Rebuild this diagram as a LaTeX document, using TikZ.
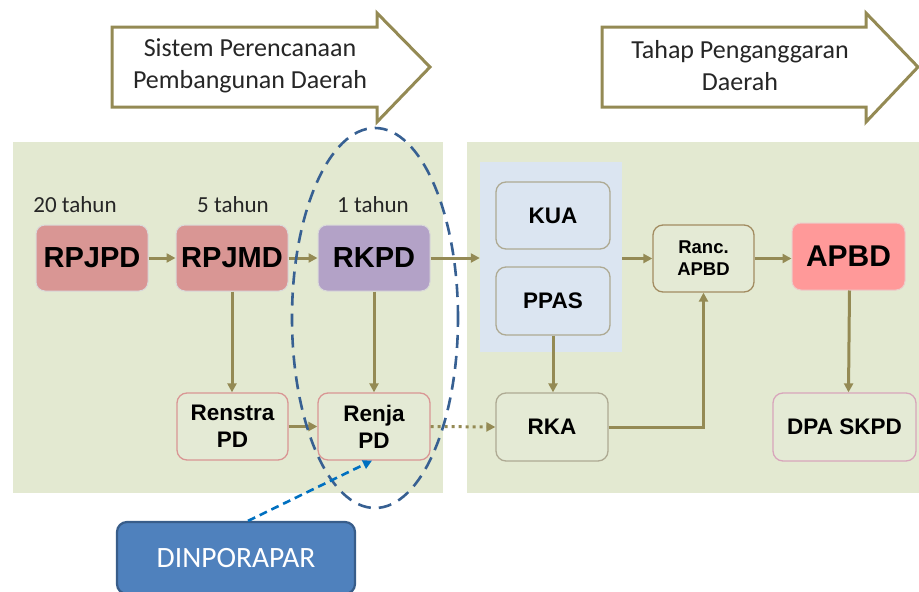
\documentclass[tikz,border=0pt]{standalone}
\usepackage{fontspec}
\setmainfont{Liberation Sans}
\newfontfamily\calfont{Carlito}
\usetikzlibrary{arrows.meta,calc}
\definecolor{olivec}{HTML}{948A54}
\definecolor{panelg}{HTML}{E3E9D1}
\definecolor{panelb}{HTML}{DBE5F1}
\definecolor{rosec}{HTML}{D99694}
\definecolor{lavc}{HTML}{B3A2C7}
\definecolor{apbdc}{HTML}{FF9999}
\definecolor{boxg}{HTML}{E4EAD5}
\definecolor{ellc}{HTML}{376092}
\definecolor{dinpc}{HTML}{4F81BD}
\definecolor{dinpb}{HTML}{385D8A}
\definecolor{linkb}{HTML}{0070C0}
\tikzset{
  hdr/.style={draw=olivec,line width=3pt,fill=white},
  hdrtext/.style={font=\calfont\fontsize{26}{32}\selectfont,align=center,text=black!85},
  yrs/.style={font=\calfont\fontsize{23}{26}\selectfont,text=black!85},
  bigbox/.style={rectangle,rounded corners=9pt,draw=white!85!black,line width=1pt,inner sep=0pt,font=\fontsize{29}{32}\selectfont\bfseries},
  smallbox/.style={rectangle,rounded corners=10pt,line width=1.3pt,inner sep=0pt,align=center,font=\fontsize{22.5}{27}\selectfont\bfseries},
  flow/.style={draw=olivec,line width=3pt,-{Triangle[length=9pt,width=9pt]}},
  flowdot/.style={draw=olivec,line width=3pt,dash pattern=on 3pt off 4pt,-{Triangle[length=9pt,width=9pt]}},
}
\begin{document}
\begin{tikzpicture}[x=1pt,y=-1pt]
\useasboundingbox (0,0) rectangle (919,592);
\clip (0,0) rectangle (919,592);
% panels
\fill[panelg] (13,142) rectangle (443,493);
\fill[panelg] (467,142) rectangle (925,493);
\node[rectangle,fill=panelb,minimum width=142pt,minimum height=190pt,inner sep=0pt] (bp) at (551,257) {};
% header arrows
\draw[hdr] (112,27) -- (377,27) -- (377,13) -- (430,67) -- (377,122) -- (377,107) -- (112,107) -- cycle;
\node[hdrtext] (h1) at (250,66) {Sistem Perencanaan\\Pembangunan Daerah};
\draw[hdr] (602,27) -- (866,27) -- (866,13) -- (918,67) -- (866,122) -- (866,107) -- (602,107) -- cycle;
\node[hdrtext] (h2) at (740,66) {Tahap Penganggaran\\Daerah};
% year labels
\node[yrs] (y20) at (75,205) {20 tahun};
\node[yrs] (y5) at (233,205) {5 tahun};
\node[yrs] (y1) at (373,205) {1 tahun};
% top row
\node[bigbox,fill=rosec,minimum width=112pt,minimum height=66pt] (rpjpd) at (92,258) {RPJPD};
\node[bigbox,fill=rosec,minimum width=112pt,minimum height=66pt] (rpjmd) at (232,258) {RPJMD};
\node[bigbox,fill=lavc,minimum width=112pt,minimum height=66pt] (rkpd) at (374,258) {RKPD};
\node[smallbox,fill=panelb,draw=olivec!60!gray!70,minimum width=114pt,minimum height=67pt] (kua) at (553,215.5) {KUA};
\node[smallbox,fill=panelb,draw=olivec!60!gray!70,minimum width=114pt,minimum height=68pt] (ppas) at (553,301) {PPAS};
\node[smallbox,fill=boxg,draw=olivec!80!rosec,minimum width=101pt,minimum height=67pt,font=\fontsize{18.5}{22}\selectfont\bfseries] (ranc) at (703.5,258.5) {Ranc.\\APBD};
\node[bigbox,fill=apbdc,draw=rosec!50,minimum width=113pt,minimum height=67pt,font=\fontsize{30}{32}\selectfont\bfseries] (apbd) at (848.5,256.5) {APBD};
% bottom row
\node[smallbox,fill=boxg,draw=rosec,minimum width=111pt,minimum height=67pt] (renstra) at (232.5,426.5) {Renstra\\PD};
\node[smallbox,fill=boxg,draw=rosec,minimum width=112pt,minimum height=67pt] (renja) at (374,426.5) {Renja\\PD};
\node[smallbox,fill=boxg,draw=olivec!60!gray!70,minimum width=112pt,minimum height=68pt] (rka) at (552,427) {RKA};
\node[smallbox,fill=boxg,draw=rosec!70!violet!60,minimum width=143pt,minimum height=68pt] (dpa) at (844.5,427) {DPA SKPD};
% connectors
\draw[flow] (rpjpd.east) -- (rpjmd.west);
\draw[flow] (rpjmd.east) -- (rkpd.west);
\draw[flow] (rkpd.east) -- (bp.west |- rkpd.east);
\draw[flow] (bp.east |- ranc.west) -- (ranc.west);
\draw[flow] (ranc.east) -- (apbd.west |- ranc.east);
\draw[flow] (rpjmd.south) -- (renstra.north -| rpjmd.south);
\draw[flow] (rkpd.south) -- (renja.north);
\draw[flow] (ppas.south) -- (rka.north -| ppas.south);
\draw[flow] ([xshift=1pt]apbd.south) -- (dpa.north -| apbd.south);
\draw[flow] (renstra.east) -- (renja.west);
\draw[flowdot] (renja.east) -- (rka.west);
\draw[flow] (rka.east) -| (ranc.south);
% dashed ellipse
\draw[ellc,line width=2.6pt,dash pattern=on 13pt off 8pt] (375,318) ellipse [x radius=83pt, y radius=190pt];
% DINPORAPAR
\node[rectangle,rounded corners=10pt,fill=dinpc,draw=dinpb,line width=2.2pt,minimum width=238pt,minimum height=72pt,inner sep=0pt,text=white,font=\calfont\fontsize{29.5}{30}\selectfont] (dinp) at (236,558) {DINPORAPAR};
\draw[linkb,line width=2.6pt,dash pattern=on 8pt off 5pt,-{Triangle[length=9pt,width=9pt]}] ([xshift=12pt]dinp.north) -- ([xshift=-2pt]renja.south);
\end{tikzpicture}
\end{document}
